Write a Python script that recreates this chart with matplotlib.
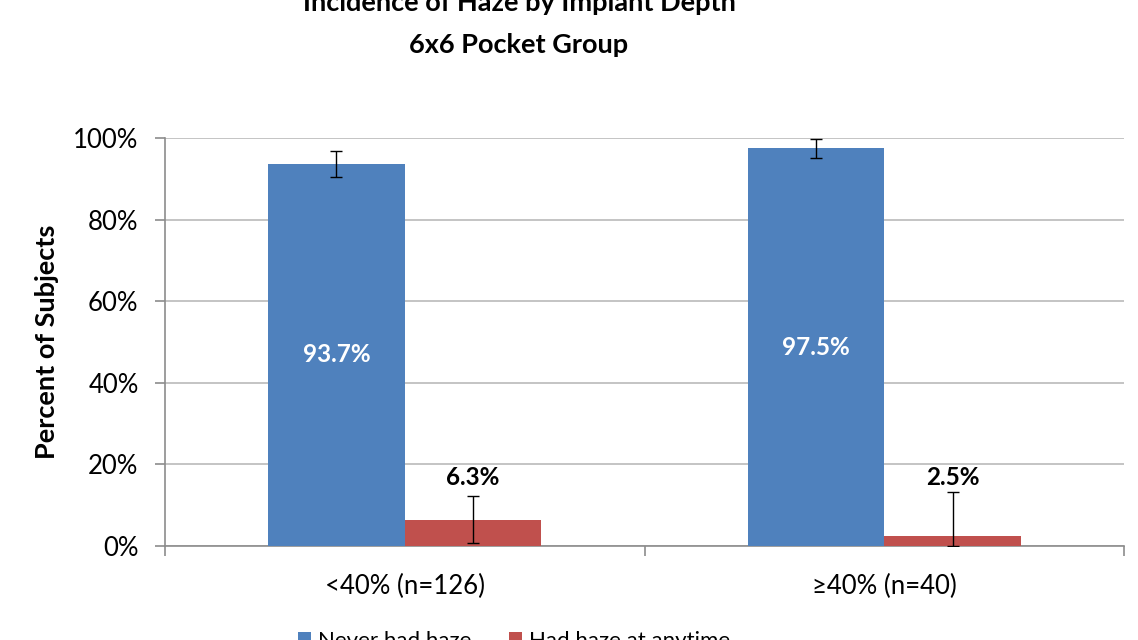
import matplotlib
matplotlib.use("Agg")
import matplotlib.pyplot as plt
import numpy as np

plt.rcParams["font.family"] = ["Lato", "DejaVu Sans"]

CATEGORIES = ["<40% (n=126)", "≥40% (n=40)"]
SERIES = ["Never had haze", "Had haze at anytime"]
NEVER = [93.7, 97.5]
HAD = [6.3, 2.5]
NEVER_ERR_LO = [3.2, 2.3]
NEVER_ERR_HI = [3.1, 2.2]
HAD_ERR_LO = [5.5, 2.5]
HAD_ERR_HI = [5.9, 10.7]
Y_TICKS = [0, 20, 40, 60, 80, 100]

BLUE = "#4F81BD"
RED = "#C0504D"
GRID = "#BFBFBF"
AXIS = "#8C8C8C"

W, H = 1138, 640
fig = plt.figure(figsize=(W / 100, H / 100), dpi=100)
ax = fig.add_axes([165 / W, (H - 546) / H, (1124 - 165) / W, (546 - 138) / H])

x = np.arange(len(CATEGORIES))
width = 0.285
err_kw = dict(ecolor="black", elinewidth=1.0, capsize=4, capthick=1.0)

ax.bar(x - width / 2, NEVER, width, color=BLUE, label=SERIES[0],
       yerr=[NEVER_ERR_LO, NEVER_ERR_HI], error_kw=err_kw, zorder=3)
ax.bar(x + width / 2, HAD, width, color=RED, label=SERIES[1],
       yerr=[HAD_ERR_LO, HAD_ERR_HI], error_kw=err_kw, zorder=3)

# data labels: white inside the tall bars, black above the short ones
for xi, v in zip(x, NEVER):
    ax.text(xi - width / 2, v / 2, f"{v:.1f}%", color="white",
            fontsize=17.5, fontweight="bold", ha="center", va="center", zorder=4)
for xi, v in zip(x, HAD):
    ax.text(xi + width / 2, 16.9, f"{v:.1f}%", color="black",
            fontsize=17.5, fontweight="bold", ha="center", va="center", zorder=4)

ax.set_xlim(-0.5, len(CATEGORIES) - 0.5)
ax.set_ylim(0, 100)
ax.set_yticks(Y_TICKS)
ax.set_yticklabels([f"{t}%" for t in Y_TICKS], fontsize=18.5)
ax.set_xticks(x)
ax.set_xticklabels(CATEGORIES, fontsize=18.5)
ax.set_xticks(np.arange(len(CATEGORIES) + 1) - 0.5, minor=True)
ax.tick_params(axis="x", which="major", length=0, pad=20)
ax.tick_params(axis="x", which="minor", length=7, color=AXIS, width=1.2)
ax.tick_params(axis="y", length=7, color=AXIS, width=1.2, pad=12)

ax.grid(axis="y", color=GRID, lw=1.3, zorder=0)
ax.set_axisbelow(True)
for s in ("top", "right"):
    ax.spines[s].set_visible(False)
for s in ("left", "bottom"):
    ax.spines[s].set_color(AXIS)
    ax.spines[s].set_linewidth(1.2)

ax.set_ylabel("Percent of Subjects", fontsize=19.5, fontweight="bold", labelpad=10)

fig.text(519 / W, 1 - 3 / H, "Incidence of Haze by Implant Depth",
         fontsize=19.5, fontweight="bold", ha="center", va="center")
fig.text(519 / W, 1 - 45 / H, "6x6 Pocket Group",
         fontsize=19.5, fontweight="bold", ha="center", va="center")

fig.legend(loc="center", bbox_to_anchor=(514 / W, -1 / H), ncol=2,
           frameon=False, fontsize=16, handlelength=0.6, handleheight=0.6,
           columnspacing=1.7, handletextpad=0.3)

fig.savefig("out.png", dpi=100)
